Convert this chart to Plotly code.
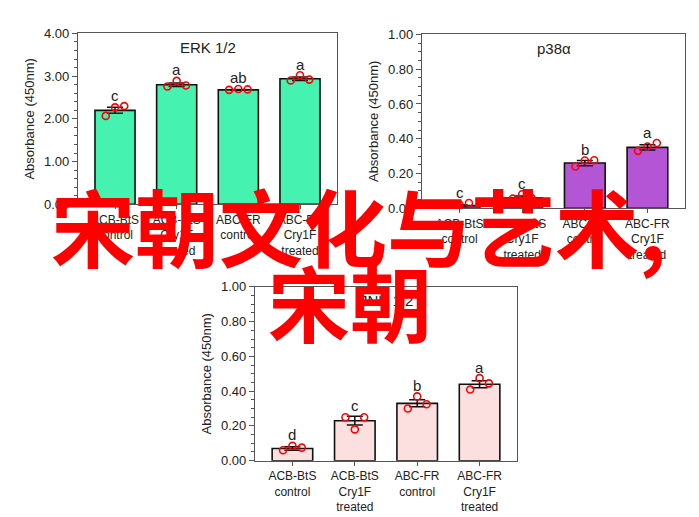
import plotly.graph_objects as go

categories = ["ACB-BtS<br>control", "ACB-BtS<br>Cry1F<br>treated", "ABC-FR<br>control", "ABC-FR<br>Cry1F<br>treated"]

erk_means = [2.20, 2.80, 2.68, 2.94]
erk_err = [0.07, 0.04, 0.01, 0.04]
erk_pts = [[2.07, 2.27, 2.30], [2.76, 2.89, 2.78], [2.68, 2.70, 2.69], [2.90, 3.02, 2.92]]
erk_letters = ["c", "a", "ab", "a"]

p38_means = [0.015, 0.06, 0.26, 0.35]
p38_err = [0.005, 0.01, 0.015, 0.015]
p38_pts = [[0.005, 0.02, 0.03], [0.055, 0.08, 0.058], [0.24, 0.275, 0.276], [0.33, 0.355, 0.375]]
p38_letters = ["c", "c", "b", "a"]

jnk_means = [0.07, 0.23, 0.33, 0.44]
jnk_err = [0.01, 0.025, 0.02, 0.02]
jnk_pts = [[0.06, 0.085, 0.075], [0.25, 0.18, 0.25], [0.30, 0.37, 0.325], [0.41, 0.475, 0.445]]
jnk_letters = ["d", "c", "b", "a"]

W, H = 699, 517
panels = [
    dict(m=erk_means, e=erk_err, p=erk_pts, l=erk_letters, c="#45F2B0", t="ERK 1/2",
         x=(70, 329), y=(19, 195), rng=4.0, dt=1.0, fmt=".2f"),
    dict(m=p38_means, e=p38_err, p=p38_pts, l=p38_letters, c="#B455D6", t="p38α",
         x=(414, 677), y=(20, 199), rng=1.0, dt=0.2, fmt=".2f"),
    dict(m=jnk_means, e=jnk_err, p=jnk_pts, l=jnk_letters, c="#FCE0E0", t="JNK 1/2",
         x=(247, 509), y=(280, 459), rng=1.0, dt=0.2, fmt=".2f"),
]

fig = go.Figure()
layout = {}
font = dict(family="Liberation Sans, Arial", size=13, color="#222")
xfont = dict(family="Liberation Sans, Arial", size=12, color="#222")
xs = list(range(len(categories)))
for i, P in enumerate(panels):
    n = "" if i == 0 else str(i + 1)
    xa, ya = "x" + n, "y" + n
    fig.add_trace(go.Bar(x=xs, y=P["m"], width=0.65, marker=dict(color=P["c"], line=dict(color="#111", width=1.6)),
                         error_y=dict(type="data", array=P["e"], color="#111", thickness=1.5, width=8),
                         xaxis=xa, yaxis=ya, showlegend=False))
    px, py = [], []
    offs = [-0.15, 0.0, 0.15]
    for j, pts in enumerate(P["p"]):
        for k, v in enumerate(pts):
            px.append(j + offs[k]); py.append(v)
    fig.add_trace(go.Scatter(x=px, y=py, mode="markers", xaxis=xa, yaxis=ya, showlegend=False,
                             marker=dict(symbol="circle-open", color="red", size=7, line=dict(width=1.6))))
    for j, L in enumerate(P["l"]):
        top = max(P["m"][j] + P["e"][j], max(P["p"][j]))
        fig.add_annotation(x=j, y=top, xref=xa, yref=ya, text=L, showarrow=False, yshift=11,
                           font=dict(family=font["family"], size=15, color="#222"))
    fig.add_annotation(x=1.5, y=P["rng"] * 0.92, xref=xa, yref=ya, text=P["t"], showarrow=False,
                       font=dict(family=font["family"], size=15, color="#222"))
    layout["xaxis" + n] = dict(domain=[P["x"][0] / W, P["x"][1] / W], anchor=ya, range=[-0.6, 3.6],
                               tickvals=xs, ticktext=categories, showline=True, linecolor="#555", linewidth=1.2,
                               mirror=True, ticks="outside", ticklen=4, tickcolor="#555", tickfont=xfont, showgrid=False,
                               zeroline=False)
    layout["yaxis" + n] = dict(domain=[1 - P["y"][1] / H, 1 - P["y"][0] / H], anchor=xa, range=[0, P["rng"]],
                               dtick=P["dt"], tickformat=P["fmt"], showline=True, linecolor="#555", linewidth=1.2,
                               mirror=True, ticks="outside", ticklen=5, tickcolor="#555", tickfont=font, showgrid=False,
                               zeroline=False, minor=dict(ticks="outside", ticklen=3, nticks=5, tickcolor="#555"),
                               title=dict(text="Absorbance (450nm)", font=font, standoff=6))

fig.update_layout(width=W, height=H, margin=dict(l=0, r=0, t=0, b=0), plot_bgcolor="white", paper_bgcolor="white",
                  bargap=0.3, **layout)
fig.add_annotation(x=350 / W, y=1 - 216 / H, xref="paper", yref="paper", text="<b>宋朝文化与艺术,</b>", showarrow=False,
                   font=dict(family="Noto Sans CJK SC", size=84, color="#FF0000"), xanchor="center", yanchor="middle")
fig.add_annotation(x=342 / W, y=1 - 294 / H, xref="paper", yref="paper", text="<b>宋朝</b>", showarrow=False,
                   font=dict(family="Noto Sans CJK SC", size=82, color="#FF0000"), xanchor="center", yanchor="middle")
fig.write_html("out.html")
